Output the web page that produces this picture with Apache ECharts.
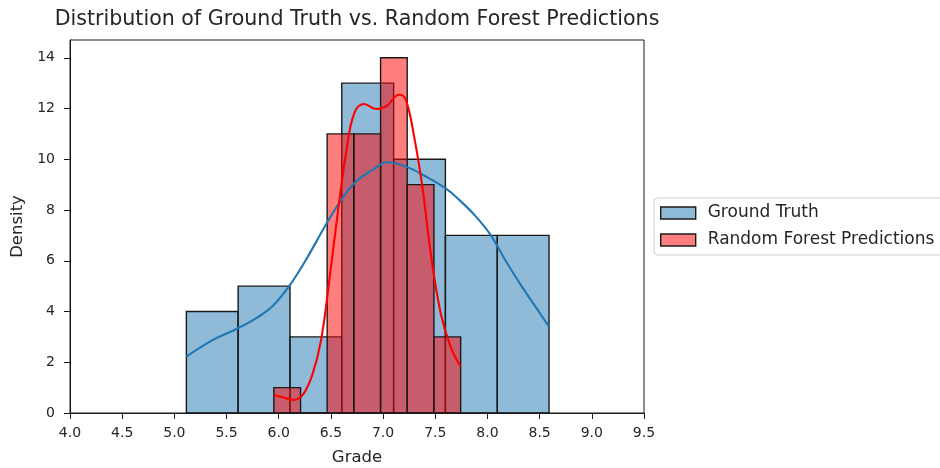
<!DOCTYPE html>
<html>
<head>
<meta charset="utf-8">
<script src="https://cdn.jsdelivr.net/npm/echarts@6/dist/echarts.min.js"></script>
<style>
  html, body { margin: 0; padding: 0; background: #fff; }
  #chart { width: 940px; height: 468px; }
</style>
</head>
<body>
<div id="chart"></div>
<script>
// Histogram bins (edges) and counts for each group
const gtBinEdges = [5.115, 5.611, 6.108, 6.604, 7.101, 7.597, 8.094, 8.59];
const gtCounts = [4, 5, 3, 13, 10, 7, 7];
const rfBinEdges = [5.953, 6.209, 6.464, 6.72, 6.976, 7.231, 7.487, 7.743];
const rfCounts = [1, 0, 11, 11, 14, 9, 3];

// Kernel density curves, scaled to counts
const gtKdeX = [5.115, 5.37, 5.61, 5.80, 5.95, 6.10, 6.26, 6.45, 6.60, 6.74, 6.90, 7.04, 7.22, 7.41, 7.6, 7.73, 7.89, 8.03, 8.17, 8.33, 8.46, 8.59];
const gtKdeY = [2.22, 2.88, 3.34, 3.78, 4.25, 5.0, 6.03, 7.41, 8.40, 9.12, 9.58, 9.88, 9.71, 9.32, 8.85, 8.4, 7.74, 7.02, 6.03, 4.98, 4.19, 3.40];
const rfKdeX = [5.953, 6.04, 6.135, 6.23, 6.326, 6.406, 6.485, 6.565, 6.645, 6.724, 6.82, 6.931, 7.027, 7.154, 7.218, 7.297, 7.376, 7.456, 7.552, 7.647, 7.743];
const rfKdeY = [0.71, 0.62, 0.51, 0.71, 1.56, 2.88, 5.24, 7.87, 10.24, 11.82, 12.18, 11.98, 12.08, 12.54, 12.34, 10.9, 8.92, 6.3, 3.93, 2.61, 1.83];

// Axis ticks
const xTicks = [4.0, 4.5, 5.0, 5.5, 6.0, 6.5, 7.0, 7.5, 8.0, 8.5, 9.0, 9.5];
const yTicks = [0, 2, 4, 6, 8, 10, 12, 14];

const FONT = 'DejaVu Sans';
const TEXT = '#262626';

function binData(edges, counts) {
  return counts.map((c, i) => [edges[i], edges[i + 1], c]);
}
function pairs(xs, ys) {
  return xs.map((x, i) => [x, ys[i]]);
}
function histRenderer(fill) {
  return function (params, api) {
    const top = api.coord([api.value(0), api.value(2)]);
    const base = api.coord([api.value(1), 0]);
    return {
      type: 'rect',
      shape: { x: top[0], y: top[1], width: base[0] - top[0], height: base[1] - top[1] },
      style: { fill: fill, stroke: '#1a1a1a', lineWidth: 1.4 }
    };
  };
}

const chart = echarts.init(document.getElementById('chart'), null, { renderer: 'canvas' });
chart.setOption({
  animation: false,
  backgroundColor: '#ffffff',
  title: {
    text: 'Distribution of Ground Truth vs. Random Forest Predictions',
    left: 357,
    textAlign: 'center',
    top: 9,
    padding: 0,
    textStyle: { fontFamily: FONT, fontSize: 20.6, fontWeight: 'normal', color: TEXT }
  },
  grid: {
    left: 70, right: 296, top: 40, bottom: 55,
    outerBoundsMode: 'none',
    containLabel: false,
    show: true, borderColor: '#1a1a1a', borderWidth: 1, backgroundColor: 'transparent'
  },
  legend: {
    orient: 'vertical',
    left: 654,
    top: 198,
    padding: [5, 14, 5, 6],
    itemWidth: 35,
    itemHeight: 12,
    itemGap: 7,
    borderColor: '#d0d0d0',
    borderWidth: 1,
    borderRadius: 4,
    backgroundColor: 'rgba(255,255,255,0.8)',
    textStyle: { fontFamily: FONT, fontSize: 17, color: TEXT, lineHeight: 20, padding: [0, 0, 0, 7] },
    data: [
      { name: 'Ground Truth', icon: 'rect', itemStyle: { color: 'rgba(31,119,180,0.5)', borderColor: '#1a1a1a', borderWidth: 1.4 } },
      { name: 'Random Forest Predictions', icon: 'rect', itemStyle: { color: 'rgba(255,0,0,0.5)', borderColor: '#1a1a1a', borderWidth: 1.4 } }
    ]
  },
  xAxis: {
    type: 'value',
    min: 4.0,
    max: 9.5,
    interval: 0.5,
    name: 'Grade',
    nameLocation: 'middle',
    nameGap: 36,
    nameTextStyle: { fontFamily: FONT, fontSize: 16.5, color: TEXT },
    axisLine: { show: true, lineStyle: { color: '#1a1a1a', width: 1 } },
    axisTick: { show: true, length: 6, lineStyle: { color: '#1a1a1a' }, customValues: xTicks },
    axisLabel: {
      fontFamily: FONT, fontSize: 14, color: TEXT, margin: 13,
      customValues: xTicks,
      formatter: v => v.toFixed(1)
    },
    splitLine: { show: false }
  },
  yAxis: {
    type: 'value',
    min: 0,
    max: 14.7,
    name: 'Density',
    nameLocation: 'middle',
    nameGap: 44,
    nameTextStyle: { fontFamily: FONT, fontSize: 16.5, color: TEXT },
    axisLine: { show: true, lineStyle: { color: '#1a1a1a', width: 1 } },
    axisTick: { show: true, length: 6, lineStyle: { color: '#1a1a1a' }, customValues: yTicks },
    axisLabel: { fontFamily: FONT, fontSize: 14, color: TEXT, margin: 15, customValues: yTicks },
    splitLine: { show: false }
  },
  series: [
    {
      name: 'Ground Truth',
      type: 'custom',
      renderItem: histRenderer('rgba(31,119,180,0.5)'),
      encode: { x: [0, 1], y: 2 },
      data: binData(gtBinEdges, gtCounts),
      itemStyle: { color: 'rgba(31,119,180,0.5)' },
      z: 1
    },
    {
      name: 'Random Forest Predictions',
      type: 'custom',
      renderItem: histRenderer('rgba(255,0,0,0.5)'),
      encode: { x: [0, 1], y: 2 },
      data: binData(rfBinEdges, rfCounts),
      itemStyle: { color: 'rgba(255,0,0,0.5)' },
      z: 2
    },
    {
      name: 'Ground Truth KDE',
      type: 'line',
      data: pairs(gtKdeX, gtKdeY),
      smooth: 0.4,
      showSymbol: false,
      lineStyle: { color: '#1f77b4', width: 2.1 },
      z: 3
    },
    {
      name: 'Random Forest KDE',
      type: 'line',
      data: pairs(rfKdeX, rfKdeY),
      smooth: 0.4,
      showSymbol: false,
      lineStyle: { color: '#ff0000', width: 2.1 },
      z: 4
    }
  ]
});
</script>
</body>
</html>
